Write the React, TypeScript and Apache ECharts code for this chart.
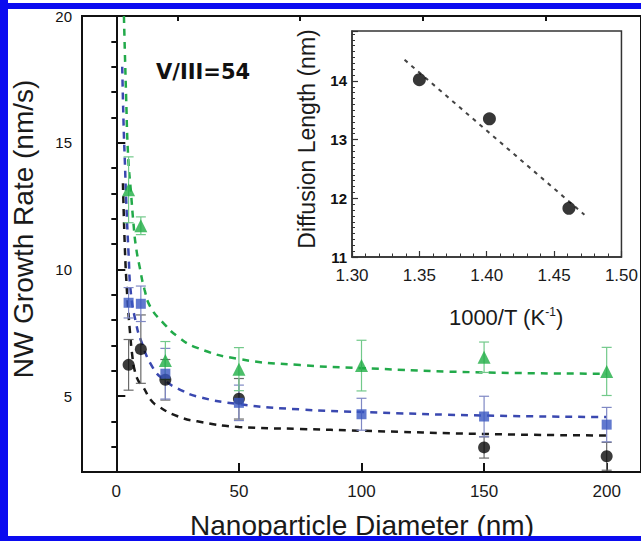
import React, { useEffect, useRef } from "react";
import * as echarts from "echarts";

// Main chart: measured points (diameter nm, growth rate nm/s, error)
const blackX = [5, 10, 20, 50, 150, 200];
const blackY = [6.23, 6.85, 5.64, 4.89, 2.97, 2.62];
const blackErr = [1.0, 1.35, 0.8, 0.8, 0.42, 0.55];

const blueX = [5, 10, 20, 50, 100, 150, 200];
const blueY = [8.68, 8.64, 5.88, 4.73, 4.28, 4.19, 3.87];
const blueErr = [0.6, 0.7, 1.0, 0.7, 0.63, 0.8, 0.68];

const greenX = [5, 10, 20, 50, 100, 150, 200];
const greenY = [13.14, 11.72, 6.4, 6.06, 6.2, 6.53, 5.97];
const greenErr = [1.3, 0.35, 0.75, 0.85, 1.0, 0.6, 0.95];

// Dashed fit curves
const blackFitX = [2.7, 3.5, 4.3, 5, 5.5, 6.5, 7.5, 9, 11, 14, 17, 25, 33, 50, 75, 100, 150, 200];
const blackFitY = [13.4, 10.8, 9.2, 8.2, 7.6, 6.6, 6.0, 5.6, 5.35, 4.85, 4.6, 4.2, 4.0, 3.78, 3.7, 3.63, 3.5, 3.44];

const blueFitX = [2.4, 3, 3.5, 4, 5, 6, 8, 10, 15, 20, 25, 33, 50, 75, 100, 150, 200];
const blueFitY = [18.0, 15.6, 14.2, 12.8, 10.6, 9.0, 7.9, 7.2, 6.1, 5.6, 5.3, 4.98, 4.68, 4.47, 4.37, 4.23, 4.17];

const greenFitX = [3.1, 4, 4.8, 6, 7, 8, 9.5, 11.5, 14, 19, 25, 33, 50, 75, 100, 150, 200];
const greenFitY = [20.0, 16.8, 14.5, 13.0, 11.8, 10.9, 10.1, 9.2, 8.5, 7.9, 7.35, 6.9, 6.46, 6.22, 6.1, 5.93, 5.88];

// Inset: diffusion length vs 1000/T
const insetX = [1.35, 1.402, 1.461];
const insetY = [14.02, 13.355, 11.83];
const insetFitX = [1.339, 1.4725];
const insetFitY = [14.36, 11.72];

// Tick values
const xLabelValues = [0, 50, 100, 150, 200];
const xMinorValues = [25, 75, 125, 175];
const yLabelValues = [5, 10, 15, 20];
const yMinorValues = [3, 4, 6, 7, 8, 9, 11, 12, 13, 14, 16, 17, 18, 19];

const FONT = '"Liberation Sans", Arial, Helvetica, sans-serif';

const zip = (xs: number[], ys: number[]) => xs.map((x, i) => [x, ys[i]]);
const zip3 = (xs: number[], ys: number[], es: number[]) => xs.map((x, i) => [x, ys[i], es[i]]);

function errSeries(data: number[][], color: string) {
  return {
    type: "custom",
    xAxisIndex: 0,
    yAxisIndex: 0,
    z: 3,
    encode: { x: 0, y: 1 },
    data,
    renderItem: (params: any, api: any) => {
      const x = api.value(0);
      const y = api.value(1);
      const e = api.value(2);
      const top = api.coord([x, y + e]);
      const bot = api.coord([x, y - e]);
      const hw = 5;
      const st = { stroke: color, lineWidth: 1.2 };
      return {
        type: "group",
        children: [
          { type: "line", shape: { x1: top[0], y1: top[1], x2: bot[0], y2: bot[1] }, style: st },
          { type: "line", shape: { x1: top[0] - hw, y1: top[1], x2: top[0] + hw, y2: top[1] }, style: st },
          { type: "line", shape: { x1: bot[0] - hw, y1: bot[1], x2: bot[0] + hw, y2: bot[1] }, style: st },
        ],
      };
    },
  };
}

function fitSeries(xs: number[], ys: number[], color: string) {
  return {
    type: "line",
    xAxisIndex: 0,
    yAxisIndex: 0,
    z: 2,
    data: zip(xs, ys),
    showSymbol: false,
    symbol: "none",
    smooth: true,
    lineStyle: { color, width: 2.5, type: [7, 6] },
  };
}

export default function App() {
  const ref = useRef<HTMLDivElement>(null);
  useEffect(() => {
    if (!ref.current) return;
    const chart = echarts.init(ref.current, undefined, { renderer: "svg" });
    const option: any = {
      animation: false,
      backgroundColor: "#ffffff",
      grid: [
        { left: 82, top: 16, right: -2, bottom: 69, show: true, borderColor: "#111", borderWidth: 2 },
        { left: 352, top: 31, width: 271, height: 226, show: true, borderColor: "#333", borderWidth: 1.5, backgroundColor: "#fff", z: 5 },
      ],
      xAxis: [
        {
          type: "value", gridIndex: 0, min: -14, max: 214,
          axisLine: { lineStyle: { color: "#111", width: 2 } },
          axisTick: { inside: true, length: 9, lineStyle: { color: "#111", width: 2 }, customValues: xLabelValues },
          axisLabel: { customValues: xLabelValues, color: "#1a1a1a", fontSize: 17, fontFamily: FONT, margin: 11 },
          splitLine: { show: false },
        },
        {
          type: "value", gridIndex: 0, min: -14, max: 214,
          axisLine: { show: false },
          axisTick: { inside: true, length: 5, lineStyle: { color: "#111", width: 2 }, customValues: xMinorValues },
          axisLabel: { show: false },
          splitLine: { show: false },
        },
        {
          type: "value", gridIndex: 1, min: 1.3, max: 1.5, interval: 0.05,
          axisLine: { lineStyle: { color: "#333", width: 1.5 } },
          axisTick: { inside: true, length: 6, lineStyle: { color: "#333", width: 1.2 } },
          minorTick: { show: true, splitNumber: 5, length: 3.5, lineStyle: { color: "#333", width: 1 } },
          axisLabel: { color: "#1a1a1a", fontSize: 17, fontFamily: FONT, margin: 10, formatter: (v: number) => v.toFixed(2) },
          splitLine: { show: false },
          z: 6,
        },
      ],
      yAxis: [
        {
          type: "value", gridIndex: 0, min: 2, max: 20,
          axisLine: { show: true, lineStyle: { color: "#111", width: 2 } },
          axisTick: { show: true, inside: true, length: 9, lineStyle: { color: "#111", width: 2 }, customValues: yLabelValues },
          axisLabel: { customValues: yLabelValues, color: "#111", fontSize: 15, fontFamily: FONT, margin: 10 },
          splitLine: { show: false },
        },
        {
          type: "value", gridIndex: 0, min: 2, max: 20,
          axisLine: { show: false },
          axisTick: { show: true, inside: true, length: 5, lineStyle: { color: "#111", width: 2 }, customValues: yMinorValues },
          axisLabel: { show: false },
          splitLine: { show: false },
        },
        {
          type: "value", gridIndex: 1, min: 11, max: 14.85, interval: 1,
          axisLine: { show: true, lineStyle: { color: "#333", width: 1.5 } },
          axisTick: { show: true, inside: true, length: 6, lineStyle: { color: "#333", width: 1.2 } },
          minorTick: { show: true, splitNumber: 10, length: 3, lineStyle: { color: "#333", width: 1 } },
          axisLabel: { color: "#111", fontSize: 15, fontWeight: "bold", fontFamily: FONT, margin: 5, showMaxLabel: false },
          splitLine: { show: false },
          z: 6,
        },
      ],
      series: [
        fitSeries(blackFitX, blackFitY, "#1a1a1a"),
        fitSeries(blueFitX, blueFitY, "#3a48b0"),
        fitSeries(greenFitX, greenFitY, "#22aa4a"),
        errSeries(zip3(blackX, blackY, blackErr), "#6a6a6a"),
        errSeries(zip3(blueX, blueY, blueErr), "#7f88c4"),
        errSeries(zip3(greenX, greenY, greenErr), "#72c98a"),
        {
          type: "scatter", xAxisIndex: 0, yAxisIndex: 0, z: 4,
          data: zip(blackX, blackY), symbol: "circle", symbolSize: 12,
          itemStyle: { color: "#0a0a0a" },
        },
        {
          type: "scatter", xAxisIndex: 0, yAxisIndex: 0, z: 4,
          data: zip(blueX, blueY), symbol: "rect", symbolSize: 10,
          itemStyle: { color: "#3a58c2" },
        },
        {
          type: "scatter", xAxisIndex: 0, yAxisIndex: 0, z: 4,
          data: zip(greenX, greenY), symbol: "triangle", symbolSize: 13,
          itemStyle: { color: "#1fae45" },
        },
        {
          type: "line", xAxisIndex: 2, yAxisIndex: 2, z: 7,
          data: zip(insetFitX, insetFitY), showSymbol: false, symbol: "none",
          lineStyle: { color: "#444", width: 2, type: [4, 5] },
        },
        {
          type: "scatter", xAxisIndex: 2, yAxisIndex: 2, z: 8,
          data: zip(insetX, insetY), symbol: "circle", symbolSize: 13,
          itemStyle: { color: "#050505" },
        },
      ],
      graphic: [
        { type: "rect", shape: { x: 0, y: 0, width: 8, height: 541 }, style: { fill: "#0b0bf0" }, z: 100 },
        { type: "rect", shape: { x: 0, y: 3, width: 641, height: 6 }, style: { fill: "#0b0bf0" }, z: 100 },
        { type: "rect", shape: { x: 0, y: 536, width: 641, height: 5 }, style: { fill: "#0b0bf0" }, z: 100 },
        {
          type: "text", x: 23, y: 229, rotation: Math.PI / 2, z: 50,
          style: { text: "NW Growth Rate (nm/s)", fontSize: 28, fontFamily: FONT, fill: "#1a1a1a", align: "center", verticalAlign: "middle" },
        },
        {
          type: "text", x: 362, y: 525, z: 50,
          style: { text: "Nanoparticle Diameter (nm)", fontSize: 28, fontFamily: FONT, fill: "#1a1a1a", align: "center", verticalAlign: "middle" },
        },
        {
          type: "text", x: 156, y: 72, z: 50,
          style: { text: "V/III=54", fontSize: 21, fontWeight: "bold", fontFamily: '"DejaVu Sans", sans-serif', fill: "#111", align: "left", verticalAlign: "middle" },
        },
        {
          type: "text", x: 307, y: 139, rotation: Math.PI / 2, z: 50,
          style: { text: "Diffusion Length (nm)", fontSize: 23, fontFamily: FONT, fill: "#1a1a1a", align: "center", verticalAlign: "middle" },
        },
        {
          type: "text", x: 506, y: 317, z: 50,
          style: {
            text: "{a|1000/T (K}{s|-1}{a|)}",
            align: "center", verticalAlign: "middle",
            rich: {
              a: { fontSize: 22, fontFamily: FONT, fill: "#1a1a1a", color: "#1a1a1a" },
              s: { fontSize: 12, fontFamily: FONT, fill: "#1a1a1a", color: "#1a1a1a", verticalAlign: "top" },
            },
          },
        },
      ],
    };
    chart.setOption(option);
    return () => chart.dispose();
  }, []);
  return (
    <div
      ref={ref}
      style={{ position: "fixed", left: 0, top: 0, width: 641, height: 541, background: "#fff" }}
    />
  );
}
